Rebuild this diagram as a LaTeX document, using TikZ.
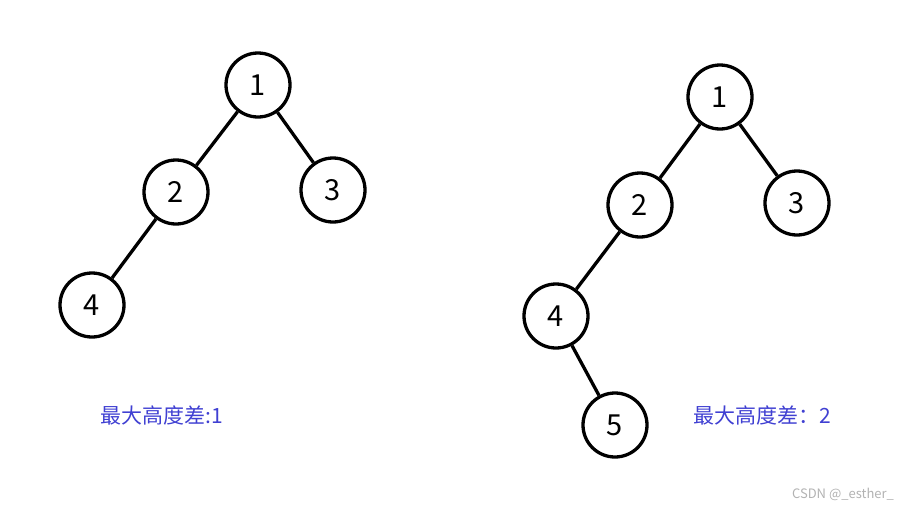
\documentclass[tikz,border=0pt]{standalone}
\usepackage{fontspec}
\setmainfont{Noto Sans CJK SC}
\begin{document}
\begin{tikzpicture}[x=1pt,y=-1pt,
  tn/.style={circle,draw,line width=3.3pt,minimum size=64pt,inner sep=0pt,font=\fontsize{29}{29}\selectfont},
  edge/.style={line width=3.3pt},
  lbl/.style={text={rgb,255:red,64;green,64;blue,210},font=\fontsize{21}{21}\selectfont}]
\useasboundingbox (0,0) rectangle (913,509);
\node[tn] (a1) at (258,85) {1};
\node[tn] (a2) at (176,192) {2};
\node[tn] (a3) at (333,190) {3};
\node[tn] (a4) at (92,305) {4};
\draw[edge] (a1)--(a2) (a1)--(a3) (a2)--(a4);
\node[tn] (b1) at (720,97) {1};
\node[tn] (b2) at (640,205) {2};
\node[tn] (b3) at (797,203) {3};
\node[tn] (b4) at (556,316) {4};
\node[tn] (b5) at (615,425) {5};
\draw[edge] (b1)--(b2) (b1)--(b3) (b2)--(b4) (b4)--(b5);
\node[lbl] (t1) at (162,415) {最大高度差:1};
\node[lbl] (t2) at (762,415) {最大高度差：2};
\node[text=gray!60,font=\fontsize{13}{13}\selectfont] (wm) at (843,494) {CSDN @\_esther\_};
\end{tikzpicture}
\end{document}
